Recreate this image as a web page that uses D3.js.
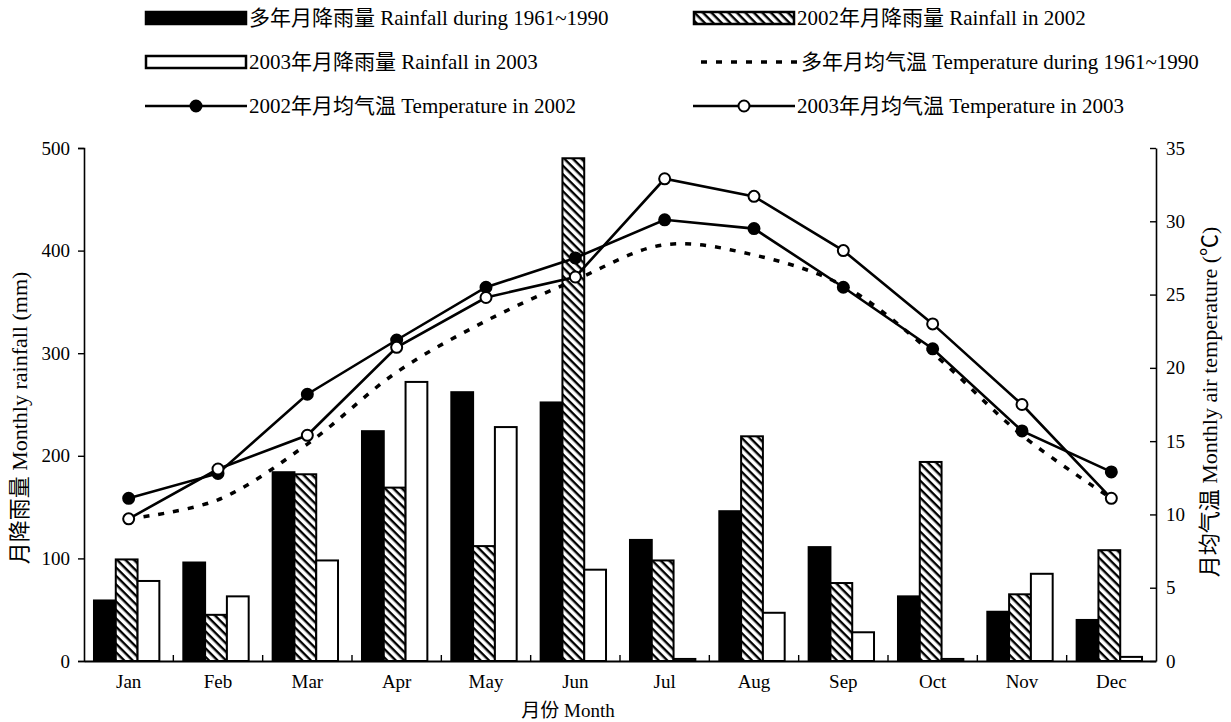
<!DOCTYPE html>
<html>
<head>
<meta charset="utf-8">
<script src="https://cdn.jsdelivr.net/npm/d3@7"></script>
<style>
    body { margin: 0; background: #fff; }
    text { font-family: "Liberation Serif", "Noto Sans CJK SC", serif; fill: #000; }
</style>
</head>
<body>
<div id="chart"></div>
<script>
// chart data
var months = ["Jan", "Feb", "Mar", "Apr", "May", "Jun", "Jul", "Aug", "Sep", "Oct", "Nov", "Dec"];
var rainAvg = [59, 96, 184, 224, 262, 252, 118, 146, 111, 63, 48, 40];
var rain2002 = [99, 45, 182, 169, 112, 490, 98, 219, 76, 194, 65, 108];
var rain2003 = [78, 63, 98, 272, 228, 89, 2, 47, 28, 2, 85, 4];
var tempAvg = [9.7, 11.0, 14.8, 19.7, 23.2, 26.0, 28.4, 27.7, 25.6, 21.0, 15.4, 11.1];
var temp2002 = [11.1, 12.8, 18.2, 21.9, 25.5, 27.5, 30.1, 29.5, 25.5, 21.3, 15.7, 12.9];
var temp2003 = [9.7, 13.1, 15.4, 21.4, 24.8, 26.2, 32.9, 31.7, 28.0, 23.0, 17.5, 11.1];
var rainTicks = [0, 100, 200, 300, 400, 500];
var tempTicks = [0, 5, 10, 15, 20, 25, 30, 35];

(function () {
    var W = 1231, H = 722;
    var left = 84, right = 1156, top = 148, bottom = 661;
    var fs = "19px";

    var svg = d3.select("#chart").append("svg")
        .attr("width", W)
        .attr("height", H);

    var defs = svg.append("defs");
    var pat = defs.append("pattern")
        .attr("id", "hatch")
        .attr("patternUnits", "userSpaceOnUse")
        .attr("width", 6)
        .attr("height", 6)
        .attr("patternTransform", "rotate(45)");
    pat.append("rect").attr("width", 6).attr("height", 6).attr("fill", "#fff");
    pat.append("rect").attr("width", 6).attr("height", 2.4).attr("fill", "#000");

    var x0 = d3.scaleBand().domain(months).range([left, right]);
    var x1 = d3.scaleBand().domain([0, 1, 2]).range([0, x0.bandwidth()]).paddingOuter(0.55);
    var yRain = d3.scaleLinear().domain([0, 500]).range([bottom, top]);
    var yTemp = d3.scaleLinear().domain([0, 35]).range([bottom, top]);

    var series = [
        {vals: rainAvg, fill: "#000"},
        {vals: rain2002, fill: "url(#hatch)"},
        {vals: rain2003, fill: "#fff"}
    ];

    //--bars
    var barG = svg.append("g");
    series.forEach(function (s, si) {
        barG.selectAll(null)
            .data(s.vals)
            .enter().append("rect")
            .attr("x", function (d, i) { return x0(months[i]) + x1(si) - 2; })
            .attr("y", function (d) { return yRain(d); })
            .attr("width", x1.bandwidth())
            .attr("height", function (d) { return bottom - yRain(d); })
            .attr("fill", s.fill)
            .attr("stroke", "#000")
            .attr("stroke-width", 2);
    });

    //--axes
    var axL = svg.append("g")
        .attr("transform", "translate(" + left + ",0)")
        .call(d3.axisLeft(yRain).tickValues(rainTicks).tickSizeOuter(0).tickSize(6).tickPadding(8));
    var axR = svg.append("g")
        .attr("transform", "translate(" + right + ",0)")
        .call(d3.axisRight(yTemp).tickValues(tempTicks).tickSizeOuter(0).tickSizeInner(-6).tickPadding(10));
    [axL, axR].forEach(function (a) {
        a.select(".domain").attr("stroke-width", 1.6);
        a.selectAll(".tick line").attr("stroke-width", 1.4);
        a.selectAll(".tick text").style("font-size", fs);
    });

    var axB = svg.append("g")
        .attr("transform", "translate(0," + bottom + ")")
        .call(d3.axisBottom(x0).tickSize(0).tickPadding(14));
    axB.select(".domain").attr("stroke-width", 1.8);
    axB.selectAll(".tick text").style("font-size", fs);
    axB.selectAll(null)
        .data(months.slice(1))
        .enter().append("line")
        .attr("x1", function (d) { return x0(d); })
        .attr("x2", function (d) { return x0(d); })
        .attr("y1", 0)
        .attr("y2", -6)
        .attr("stroke", "#000")
        .attr("stroke-width", 1.4);

    //--temperature lines
    var cx = function (d, i) { return x0(months[i]) + x0.bandwidth() / 2; };
    var line = d3.line().x(cx).y(function (d) { return yTemp(d); });
    var smooth = d3.line().x(cx).y(function (d) { return yTemp(d); }).curve(d3.curveCatmullRom.alpha(0.5));

    svg.append("path")
        .attr("d", smooth(tempAvg))
        .attr("fill", "none")
        .attr("stroke", "#000")
        .attr("stroke-width", 3.5)
        .attr("stroke-dasharray", "6,9");

    [{vals: temp2002, fill: "#000"}, {vals: temp2003, fill: "#fff"}].forEach(function (s) {
        svg.append("path")
            .attr("d", line(s.vals))
            .attr("fill", "none")
            .attr("stroke", "#000")
            .attr("stroke-width", 2.6);
        svg.selectAll(null)
            .data(s.vals)
            .enter().append("circle")
            .attr("cx", cx)
            .attr("cy", function (d) { return yTemp(d); })
            .attr("r", 5.5)
            .attr("fill", s.fill)
            .attr("stroke", "#000")
            .attr("stroke-width", 2);
    });

    //--axis titles
    svg.append("text")
        .attr("transform", "translate(27,418) rotate(-90)")
        .attr("text-anchor", "middle")
        .style("font-size", "22px")
        .text("月降雨量 Monthly rainfall (mm)");
    svg.append("text")
        .attr("transform", "translate(1217,402) rotate(-90)")
        .attr("text-anchor", "middle")
        .style("font-size", "22px")
        .text("月均气温 Monthly air temperature (℃)");
    svg.append("text")
        .attr("x", 568)
        .attr("y", 717)
        .attr("text-anchor", "middle")
        .style("font-size", fs)
        .text("月份 Month");

    //--legend
    var legend = [
        {x: 145, y: 18, type: "bar", fill: "#000", label: "多年月降雨量 Rainfall during 1961~1990"},
        {x: 693, y: 18, type: "bar", fill: "url(#hatch)", label: "2002年月降雨量 Rainfall in 2002"},
        {x: 145, y: 62, type: "bar", fill: "#fff", label: "2003年月降雨量 Rainfall in 2003"},
        {x: 693, y: 62, type: "dash", label: "多年月均气温 Temperature during 1961~1990"},
        {x: 145, y: 106, type: "dot", fill: "#000", label: "2002年月均气温 Temperature in 2002"},
        {x: 693, y: 106, type: "dot", fill: "#fff", label: "2003年月均气温 Temperature in 2003"}
    ];
    var lg = svg.append("g").selectAll("g").data(legend).enter().append("g")
        .attr("transform", function (d) { return "translate(" + d.x + "," + d.y + ")"; });
    lg.each(function (d) {
        var g = d3.select(this);
        if (d.type === "bar") {
            g.append("rect")
                .attr("x", 1).attr("y", -6).attr("width", 100).attr("height", 12)
                .attr("fill", d.fill).attr("stroke", "#000").attr("stroke-width", 2.5);
        } else if (d.type === "dash") {
            g.append("line")
                .attr("x1", 8).attr("x2", 104).attr("y1", 0).attr("y2", 0)
                .attr("stroke", "#000").attr("stroke-width", 3.5).attr("stroke-dasharray", "6,9");
        } else {
            g.append("line")
                .attr("x1", 0).attr("x2", 102).attr("y1", 0).attr("y2", 0)
                .attr("stroke", "#000").attr("stroke-width", 2.6);
            g.append("circle")
                .attr("cx", 51).attr("cy", 0).attr("r", 5.5)
                .attr("fill", d.fill).attr("stroke", "#000").attr("stroke-width", 2);
        }
        g.append("text")
            .attr("x", d.type === "dash" ? 108 : 104)
            .attr("y", 7)
            .style("font-size", "21px")
            .text(d.label);
    });
})();
</script>
</body>
</html>
